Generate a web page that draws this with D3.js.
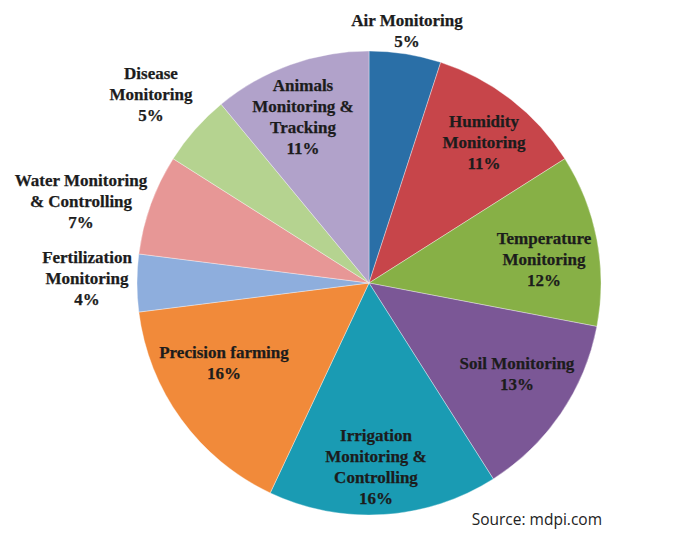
<!DOCTYPE html>
<html><head><meta charset="utf-8">
<script src="https://cdn.jsdelivr.net/npm/d3@7"></script>
<style>body{margin:0;background:#fff}svg{display:block}</style>
</head><body>
<svg id="c" width="683" height="549"></svg>
<script>
const categories = ["Air Monitoring","Humidity Monitoring","Temperature Monitoring","Soil Monitoring","Irrigation Monitoring & Controlling","Precision farming","Fertilization Monitoring","Water Monitoring & Controlling","Disease Monitoring","Animals Monitoring & Tracking"];
const values = [5,11,12,13,16,16,4,7,5,11];
const labelLines = [
  ["Air Monitoring","5%"],
  ["Humidity","Monitoring","11%"],
  ["Temperature","Monitoring","12%"],
  ["Soil Monitoring","13%"],
  ["Irrigation","Monitoring &","Controlling","16%"],
  ["Precision farming","16%"],
  ["Fertilization","Monitoring","4%"],
  ["Water Monitoring","& Controlling","7%"],
  ["Disease","Monitoring","5%"],
  ["Animals","Monitoring &","Tracking","11%"]
];
const colors = ["#2a6fa7","#c7454a","#87b046","#7b5796","#1a9bb3","#f18a3a","#8eaedd","#e79796","#b5d390","#b1a2ca"];
// label anchor (centre of first line)
const labelPos = [[407,20],[484,121],[544,238],[517,363],[376,435],[224,352],[87,257],[81,180],[151,73],[303,85]];

const svg = d3.select("#c");
const cx = 369, cy = 283, R = 232;
const pie = d3.pie().sort(null).value(d=>d)(values);
const arc = d3.arc().innerRadius(0).outerRadius(R);
const g = svg.append("g").attr("transform",`translate(${cx},${cy})`);
g.selectAll("path").data(pie).join("path")
  .attr("d",arc).attr("fill",(d,i)=>colors[i])
  .attr("stroke","rgba(255,255,255,0.45)").attr("stroke-width",0.8);

const lh = 21;
labelLines.forEach((lines,i)=>{
  const [x,y] = labelPos[i];
  const t = svg.append("text").attr("x",x).attr("y",y)
    .attr("text-anchor","middle").attr("dominant-baseline","central")
    .attr("font-family","'Liberation Serif','Times New Roman',serif")
    .attr("font-weight","bold").attr("font-size",17).attr("fill","#1c1c1c")
    .attr("stroke","#1c1c1c").attr("stroke-width",0.25);
  lines.forEach((l,j)=>t.append("tspan").attr("x",x).attr("dy",j?lh:0).text(l));
});
svg.append("text").attr("x",602).attr("y",519).attr("text-anchor","end")
  .attr("dominant-baseline","central")
  .attr("font-family","'Open Sans','Noto Sans',sans-serif")
  .attr("font-size",15.5).attr("fill","#222").text("Source: mdpi.com");
</script>
</body></html>
